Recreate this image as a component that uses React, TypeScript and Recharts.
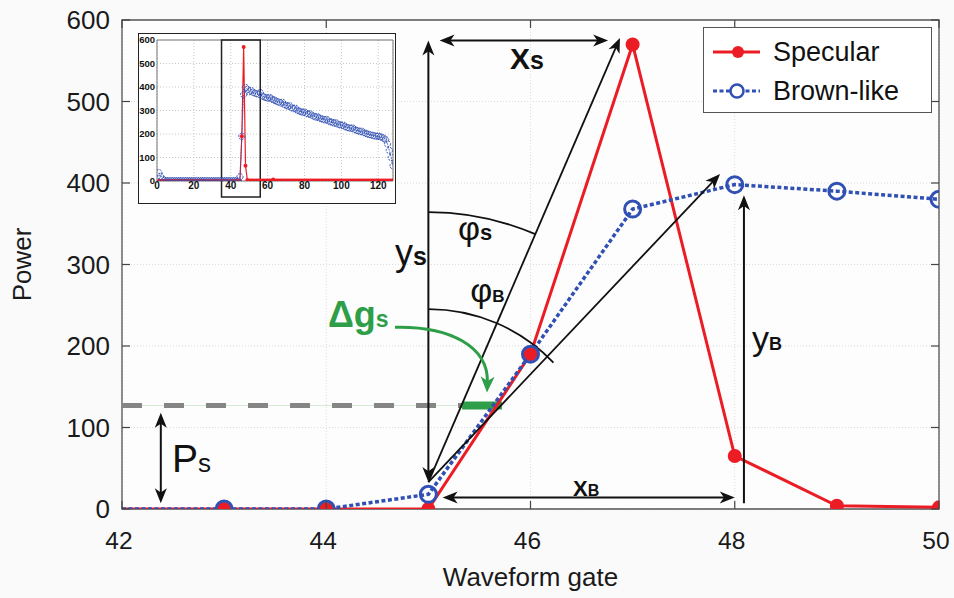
import React from 'react';
import {
  LineChart, Line, XAxis, YAxis, CartesianGrid, ReferenceLine, ReferenceArea, ReferenceDot, Legend,
} from 'recharts';

// ---------- data ----------
const gates = [42, 43, 44, 45, 46, 47, 48, 49, 50];
const specular = [0, 0, 0, 0, 190, 570, 65, 4, 2];
const brownLike = [0, 0, 0, 18, 190, 368, 398, 390, 380];
const xTicks = [42, 44, 46, 48, 50];
const yTicks = [0, 100, 200, 300, 400, 500, 600];

// inset (gates 1..128)
const insetSpecular = [
  0, 0, 0, 0, 0, 0, 0, 0, 0, 0, 0, 0, 0, 0, 0, 0, 0, 0, 0, 0,
  0, 0, 0, 0, 0, 0, 0, 0, 0, 0, 0, 0, 0, 0, 0, 0, 0, 0, 0, 0,
  0, 0, 0, 0, 0, 190, 570, 65, 4, 2, 2, 2, 2, 2, 2, 2, 2, 2, 2, 2,
  2, 2, 6, 2, 2, 2, 2, 2, 2, 2, 2, 2, 2, 2, 2, 2, 2, 2, 2, 2,
  2, 2, 2, 2, 2, 2, 2, 2, 2, 2, 2, 2, 2, 2, 2, 2, 2, 2, 2, 2,
  2, 2, 2, 2, 2, 2, 2, 2, 2, 2, 2, 2, 2, 2, 2, 2, 2, 2, 2, 2,
  2, 2, 2, 2, 2, 2, 2, 2,
];
const insetBrown = [
  35, 20, 8, 3, 1, 1, 1, 1, 1, 1, 1, 1, 1, 1, 1, 1, 1, 1, 1, 1,
  1, 1, 1, 1, 1, 1, 1, 1, 1, 1, 1, 1, 1, 1, 1, 1, 1, 1, 1, 1,
  1, 1, 1, 1, 18, 190, 368, 398, 390, 380, 385, 378, 374, 372, 368, 376, 362, 358, 355, 352,
  356, 350, 346, 343, 338, 336, 332, 335, 326, 322, 318, 320, 312, 308, 310, 302, 298, 295, 292, 294,
  288, 284, 286, 280, 276, 272, 274, 268, 266, 262, 260, 262, 255, 252, 250, 246, 248, 242, 240, 236,
  238, 232, 228, 226, 224, 226, 220, 216, 214, 210, 212, 206, 204, 200, 198, 196, 194, 192, 190, 192,
  188, 186, 182, 176, 158, 130, 100, 65,
];
const insetXTicks = [0, 20, 40, 60, 80, 100, 120];
const insetYTicks = [0, 100, 200, 300, 400, 500, 600];

const mainData = gates.map((g, i) => ({ g, s: specular[i], b: brownLike[i] }));
const insetData = insetSpecular.map((s, i) => ({ g: i + 1, s, b: insetBrown[i] }));

// ---------- style ----------
const FONT = '"Liberation Sans", Arial, sans-serif';
const RED = '#ec1c24';
const BLUE = '#3050b4';
const GREEN = '#2e9f48';
const INK = '#111';

const PL = 122, PR = 939, PT = 20, PB = 509;

// ---------- helpers ----------
function head(x: number, y: number, ang: number, len: number, hw: number, color: string) {
  const c = Math.cos(ang), s = Math.sin(ang);
  const bx = x - len * c, by = y - len * s;
  const nx = -s * hw, ny = c * hw;
  const mx = x - len * 0.72 * c, my = y - len * 0.72 * s;
  return (
    <polygon
      points={`${x},${y} ${bx + nx},${by + ny} ${mx},${my} ${bx - nx},${by - ny}`}
      fill={color}
    />
  );
}

const arrowShape = (o: { start?: boolean; end?: boolean; color?: string; width?: number; len?: number; hw?: number }) =>
  (p: any) => {
    const { x1, y1, x2, y2 } = p;
    const color = o.color ?? INK;
    const len = o.len ?? 15;
    const hw = o.hw ?? 6;
    const ang = Math.atan2(y2 - y1, x2 - x1);
    const c = Math.cos(ang), s = Math.sin(ang);
    const sx = o.start ? x1 + c * len * 0.6 : x1;
    const sy = o.start ? y1 + s * len * 0.6 : y1;
    const ex = o.end ? x2 - c * len * 0.6 : x2;
    const ey = o.end ? y2 - s * len * 0.6 : y2;
    return (
      <g>
        <line x1={sx} y1={sy} x2={ex} y2={ey} stroke={color} strokeWidth={o.width ?? 2} />
        {o.start ? head(x1, y1, ang + Math.PI, len, hw, color) : null}
        {o.end ? head(x2, y2, ang, len, hw, color) : null}
      </g>
    );
  };

const arcShape = (r: number, extra: number) => (p: any) => {
  const { x1, y1, x2, y2 } = p;
  const a0 = -Math.PI / 2;
  const a1 = Math.atan2(y2 - y1, x2 - x1) + extra;
  const sx = x1 + r * Math.cos(a0), sy = y1 + r * Math.sin(a0);
  const ex = x1 + r * Math.cos(a1), ey = y1 + r * Math.sin(a1);
  return <path d={`M${sx},${sy} A${r},${r} 0 0 1 ${ex},${ey}`} fill="none" stroke={INK} strokeWidth={1.8} />;
};

const curveShape = (p: any) => {
  const { x1, y1, x2, y2 } = p;
  const dx = x2 - x1, dy = y2 - y1;
  const c1x = x1 + 0.6 * dx, c1y = y1 - 0.02 * dy;
  const c2x = x2 + 0.02 * dx, c2y = y1 + 0.3 * dy;
  const ang = Math.atan2(y2 - c2y, x2 - c2x);
  const len = 16;
  const bx = x2 - Math.cos(ang) * len * 0.6, by = y2 - Math.sin(ang) * len * 0.6;
  return (
    <g>
      <path d={`M${x1},${y1} C${c1x},${c1y} ${c2x},${c2y} ${bx},${by}`} fill="none" stroke={GREEN} strokeWidth={3} />
      {head(x2, y2, ang, len, 7, GREEN)}
    </g>
  );
};

type Part = { t: string; size: number; bold?: boolean };
const labelShape = (parts: Part[], color: string) => (p: any) => (
  <text x={p.cx} y={p.cy} fill={color} fontFamily={FONT}>
    {parts.map((q, i) => (
      <tspan key={i} fontSize={q.size} fontWeight={q.bold ? 700 : 400}>{q.t}</tspan>
    ))}
  </text>
);

// ---------- ticks ----------
const MainXTick = (p: any) => {
  const { x, y, payload } = p;
  return (
    <g>
      <line x1={x} x2={x} y1={PB} y2={PB - 8} stroke="#444" strokeWidth={1.2} />
      <line x1={x} x2={x} y1={PT} y2={PT + 8} stroke="#444" strokeWidth={1.2} />
      <text x={x - 3} y={y} dy="0.71em" textAnchor="middle" fontSize={24.5} fontFamily={FONT} fill="#1a1a1a">
        {payload.value}
      </text>
    </g>
  );
};
const MainYTick = (p: any) => {
  const { x, y, payload } = p;
  return (
    <g>
      <line x1={PL} x2={PL + 8} y1={y} y2={y} stroke="#444" strokeWidth={1.2} />
      <line x1={PR} x2={PR - 8} y1={y} y2={y} stroke="#444" strokeWidth={1.2} />
      <text x={x} y={y} dy="0.355em" textAnchor="end" fontSize={26} fontFamily={FONT} fill="#1a1a1a">
        {payload.value}
      </text>
    </g>
  );
};
const InsetXTick = (p: any) => {
  const { x, y, payload } = p;
  return (
    <text x={x} y={y} dy="0.71em" textAnchor="middle" fontSize={10} fontWeight={700} fontFamily={FONT} fill="#111">
      {payload.value}
    </text>
  );
};
const InsetYTick = (p: any) => {
  const { x, y, payload } = p;
  return (
    <text x={x} y={y} dy="0.355em" textAnchor="end" fontSize={9.5} fontWeight={700} fontFamily={FONT} fill="#111">
      {payload.value}
    </text>
  );
};

const LegendBox = () => (
  <div style={{ width: 229, height: 86, boxSizing: 'border-box', border: '1.3px solid #555', background: '#fff', position: 'relative' }}>
    <svg width={229} height={86} style={{ position: 'absolute', left: 0, top: 0 }}>
      <line x1={9} x2={56} y1={24} y2={24} stroke={RED} strokeWidth={3} />
      <circle cx={34} cy={24} r={6} fill={RED} />
      <line x1={9} x2={56} y1={63} y2={63} stroke={BLUE} strokeWidth={3} strokeDasharray="4 2.5" />
      <circle cx={33} cy={63} r={6.5} fill="#fff" stroke={BLUE} strokeWidth={2.5} />
      <text x={69} y={33} fontSize={27} fontFamily={FONT} fill="#111">Specular</text>
      <text x={69} y={72} fontSize={27} fontFamily={FONT} fill="#111">Brown-like</text>
    </svg>
  </div>
);

const redDot = (p: any) =>
  p.payload.g === 42 ? <g key={`rd-${p.index}`} /> : <circle key={`rd-${p.index}`} cx={p.cx} cy={p.cy} r={7} fill={RED} />;
const blueDot = (p: any) =>
  p.payload.g === 42 ? <g key={`bd-${p.index}`} /> : (
    <circle key={`bd-${p.index}`} cx={p.cx} cy={p.cy} r={8} fill="none" stroke={BLUE} strokeWidth={3} />
  );

const Inset = () => (
  <div style={{ position: 'absolute', left: 138, top: 33, width: 258, height: 171, background: '#fff', outline: '1.5px solid #222', outlineOffset: '-1.5px' }}>
    <LineChart width={258} height={171} data={insetData} margin={{ top: 7, right: 3, left: 0, bottom: 0 }}>
      <CartesianGrid strokeDasharray="1 2" stroke="#c8c8c8" />
      <XAxis dataKey="g" type="number" domain={[0, 128]} ticks={insetXTicks} interval={0} height={23} tickSize={0} tickMargin={1}
        axisLine={false} tickLine={false} tick={InsetXTick} allowDataOverflow />
      <YAxis type="number" domain={[0, 600]} ticks={insetYTicks} interval={0} width={19} tickSize={0} tickMargin={2}
        axisLine={false} tickLine={false} tick={InsetYTick} allowDataOverflow />
      <ReferenceArea x1={0} x2={128} y1={0} y2={600} fill="none" stroke="#777" strokeWidth={1} ifOverflow="visible" />
      <Line dataKey="s" stroke={RED} strokeWidth={1.2} dot={{ r: 2, fill: RED, stroke: 'none' }} isAnimationActive={false} />
      <Line dataKey="b" stroke={BLUE} strokeWidth={0.8} strokeDasharray="2 1"
        dot={{ r: 3.1, fill: 'none', stroke: BLUE, strokeWidth: 1 }} isAnimationActive={false} />
      <ReferenceArea x1={35} x2={56} y1={-68} y2={600} ifOverflow="visible" fill="none" stroke="#222" strokeWidth={1.5} />
    </LineChart>
  </div>
);

export default function App() {
  return (
    <div style={{ position: 'absolute', left: 0, top: 0, width: 954, height: 598, background: '#fbfafb', overflow: 'hidden' }}>
      <LineChart width={954} height={598} data={mainData} margin={{ top: PT, right: 954 - PR, left: 0, bottom: 0 }}>
        <ReferenceArea x1={42} x2={50} y1={0} y2={600} fill="#fff" stroke="none" ifOverflow="visible" />
        <CartesianGrid strokeDasharray="1 2" stroke="#b8b8b8" />
        <XAxis dataKey="g" type="number" domain={[42, 50]} ticks={xTicks} interval={0} height={598 - PB} tickSize={0} tickMargin={23}
          axisLine={false} tickLine={false} tick={MainXTick} allowDataOverflow
          label={{
            content: (p: any) => (
              <text x={p.viewBox.x + p.viewBox.width / 2} y={p.viewBox.y + 77} textAnchor="middle"
                fontSize={26} fontFamily={FONT} fill="#1a1a1a">Waveform gate</text>
            ),
          }} />
        <YAxis type="number" domain={[0, 600]} ticks={yTicks} interval={0} width={PL} tickSize={0} tickMargin={12}
          axisLine={false} tickLine={false} tick={MainYTick} allowDataOverflow
          label={{
            content: (p: any) => {
              const cx = p.viewBox.x + 31;
              const cy = p.viewBox.y + p.viewBox.height / 2;
              return (
                <text x={cx} y={cy} textAnchor="middle" transform={`rotate(-90 ${cx} ${cy})`}
                  fontSize={26} fontFamily={FONT} fill="#1a1a1a">Power</text>
              );
            },
          }} />
        <ReferenceArea x1={42} x2={50} y1={0} y2={600} fill="none" stroke="#555" strokeWidth={1.3} ifOverflow="visible" />

        {/* Ps threshold line */}
        <ReferenceLine segment={[{ x: 42, y: 127 }, { x: 45.33, y: 127 }]} stroke="#d3ead3" strokeWidth={1} ifOverflow="visible" />
        <ReferenceLine segment={[{ x: 42, y: 127 }, { x: 45.33, y: 127 }]} stroke="#858585" strokeWidth={5}
          strokeDasharray="20 22" ifOverflow="visible" />
        <ReferenceLine segment={[{ x: 45.33, y: 127 }, { x: 45.72, y: 127 }]} stroke={GREEN} strokeWidth={8} ifOverflow="visible" />

        <Line dataKey="s" stroke={RED} strokeWidth={3} dot={redDot} isAnimationActive={false} />
        <Line dataKey="b" stroke={BLUE} strokeWidth={3.5} strokeDasharray="4 2.5" dot={blueDot} isAnimationActive={false} />

        {/* arrows */}
        <ReferenceLine segment={[{ x: 45, y: 33 }, { x: 45, y: 575 }]} ifOverflow="visible" shape={arrowShape({ start: true, end: true })} />
        <ReferenceLine segment={[{ x: 45.11, y: 575 }, { x: 46.76, y: 575 }]} ifOverflow="visible" shape={arrowShape({ start: true, end: true })} />
        <ReferenceLine segment={[{ x: 45, y: 33 }, { x: 46.876, y: 578 }]} ifOverflow="visible" shape={arrowShape({ end: true, width: 1.8 })} />
        <ReferenceLine segment={[{ x: 45, y: 33 }, { x: 47.856, y: 411 }]} ifOverflow="visible" shape={arrowShape({ end: true, width: 1.8 })} />
        <ReferenceLine segment={[{ x: 45, y: 33 }, { x: 46.876, y: 578 }]} ifOverflow="visible" shape={arcShape(270, 0)} />
        <ReferenceLine segment={[{ x: 45, y: 33 }, { x: 47.856, y: 411 }]} ifOverflow="visible" shape={arcShape(173, 0.05)} />
        <ReferenceLine segment={[{ x: 48.09, y: 7 }, { x: 48.09, y: 385 }]} ifOverflow="visible" shape={arrowShape({ end: true })} />
        <ReferenceLine segment={[{ x: 45.14, y: 14 }, { x: 48.0, y: 14 }]} ifOverflow="visible" shape={arrowShape({ start: true, end: true })} />
        <ReferenceLine segment={[{ x: 42.38, y: 7 }, { x: 42.38, y: 118 }]} ifOverflow="visible" shape={arrowShape({ start: true, end: true })} />
        <ReferenceLine segment={[{ x: 44.673, y: 223 }, { x: 45.574, y: 143 }]} ifOverflow="visible" shape={curveShape} />

        {/* labels */}
        <ReferenceDot x={45.8} y={540} ifOverflow="visible" shape={labelShape([{ t: 'X', size: 30, bold: true }, { t: 's', size: 25, bold: true }], INK)} />
        <ReferenceDot x={46.416} y={16} ifOverflow="visible" shape={labelShape([{ t: 'X', size: 22, bold: true }, { t: 'B', size: 16, bold: true }], INK)} />
        <ReferenceDot x={44.673} y={299} ifOverflow="visible" shape={labelShape([{ t: 'y', size: 36 }, { t: 's', size: 25, bold: true }], INK)} />
        <ReferenceDot x={48.17} y={195} ifOverflow="visible" shape={labelShape([{ t: 'y', size: 34 }, { t: 'B', size: 18, bold: true }], INK)} />
        <ReferenceDot x={45.29} y={330} ifOverflow="visible" shape={labelShape([{ t: 'φ', size: 34 }, { t: 's', size: 22, bold: true }], INK)} />
        <ReferenceDot x={45.41} y={254} ifOverflow="visible" shape={labelShape([{ t: 'φ', size: 34 }, { t: 'B', size: 17, bold: true }], INK)} />
        <ReferenceDot x={44.017} y={223} ifOverflow="visible" shape={labelShape([{ t: 'Δg', size: 36, bold: true }, { t: 's', size: 23, bold: true }], GREEN)} />
        <ReferenceDot x={42.49} y={45} ifOverflow="visible" shape={labelShape([{ t: 'P', size: 39 }, { t: 's', size: 26 }], INK)} />

        <Legend layout="horizontal" verticalAlign="middle" align="center" content={LegendBox}
          wrapperStyle={{ left: 703, top: 27, width: 229, height: 86 }} />
      </LineChart>
      <Inset />
    </div>
  );
}
